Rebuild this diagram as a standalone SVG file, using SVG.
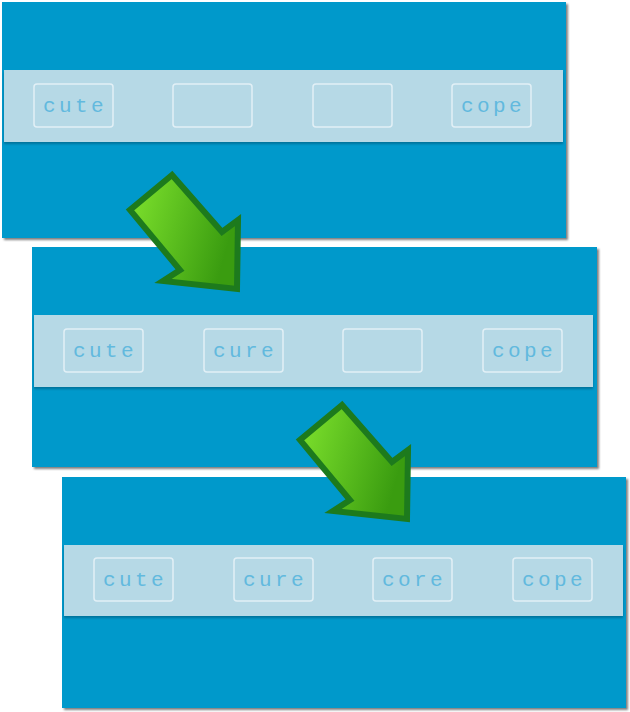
<svg xmlns="http://www.w3.org/2000/svg" width="630" height="712" viewBox="0 0 630 712">
<style>
.panel{fill:#0399cb;filter:url(#sh)}
.band{fill:#b6d9e6;filter:url(#sh2)}
.box{fill:none;stroke:#e2f0f6;stroke-width:1.5}
.lbl{font-family:"Liberation Mono","Courier New",monospace;font-size:21px;fill:#62b9de;text-anchor:middle;letter-spacing:3.4px}
.arrow{fill:url(#ag);stroke:#1d7a1d;stroke-width:6;stroke-linejoin:miter}
</style>
<defs>
<filter id="sh" x="-5%" y="-5%" width="110%" height="110%">
<feDropShadow dx="2" dy="2" stdDeviation="1.2" flood-color="#000" flood-opacity="0.5"/>
</filter>
<filter id="sh2" x="-5%" y="-10%" width="110%" height="130%">
<feDropShadow dx="0" dy="2" stdDeviation="1" flood-color="#00587a" flood-opacity="0.6"/>
</filter>
<linearGradient id="ag" x1="0" y1="0" x2="1" y2="0.3">
<stop offset="0" stop-color="#80e42e"/>
<stop offset="1" stop-color="#3a9c10"/>
</linearGradient>
</defs>
<g id="panel1">
<rect class="panel" x="2" y="2" width="564" height="236"/>
<rect class="band" x="4" y="70" width="559" height="72"/>
<rect class="box" x="34" y="84" width="79" height="43" rx="3"/>
<text class="lbl" x="75" y="112">cute</text>
<rect class="box" x="173" y="84" width="79" height="43" rx="3"/>
<rect class="box" x="313" y="84" width="79" height="43" rx="3"/>
<rect class="box" x="452" y="84" width="79" height="43" rx="3"/>
<text class="lbl" x="493" y="112">cope</text>
</g>
<g id="panel2">
<rect class="panel" x="32" y="247" width="565" height="220"/>
<rect class="band" x="34" y="315" width="559" height="72"/>
<rect class="box" x="64" y="329" width="79" height="43" rx="3"/>
<text class="lbl" x="105" y="357">cute</text>
<rect class="box" x="204" y="329" width="79" height="43" rx="3"/>
<text class="lbl" x="245" y="357">cure</text>
<rect class="box" x="343" y="329" width="79" height="43" rx="3"/>
<rect class="box" x="483" y="329" width="79" height="43" rx="3"/>
<text class="lbl" x="524" y="357">cope</text>
</g>
<g id="panel3">
<rect class="panel" x="62" y="477" width="564" height="231"/>
<rect class="band" x="64" y="545" width="559" height="71"/>
<rect class="box" x="94" y="558" width="79" height="43" rx="3"/>
<text class="lbl" x="135" y="586">cute</text>
<rect class="box" x="234" y="558" width="79" height="43" rx="3"/>
<text class="lbl" x="275" y="586">cure</text>
<rect class="box" x="373" y="558" width="79" height="43" rx="3"/>
<text class="lbl" x="414" y="586">core</text>
<rect class="box" x="513" y="558" width="79" height="43" rx="3"/>
<text class="lbl" x="554" y="586">cope</text>
</g>
<g id="connectors">
<path class="arrow" d="M172,175 L130,210 L180,270 L163,281 L237,289 L238,220 L222,232 Z"/>
<path class="arrow" d="M342,405 L300,440 L350,500 L333,511 L407,519 L408,450 L392,462 Z"/>
</g>
</svg>
